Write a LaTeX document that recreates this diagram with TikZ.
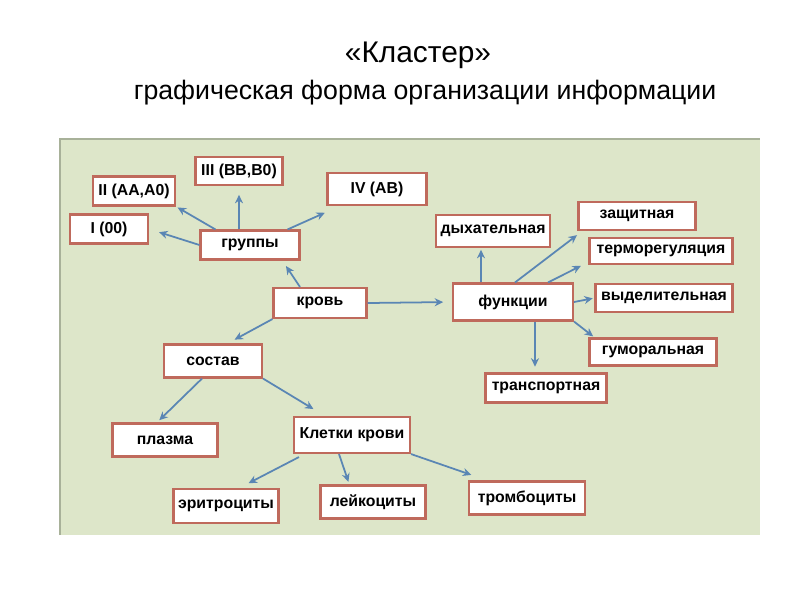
\documentclass[tikz,border=0pt]{standalone}
\usepackage{fontspec}
\setmainfont{Liberation Sans}
\usepackage{xcolor}
\usepackage{tikz}
\usetikzlibrary{arrows.meta,calc}
\definecolor{panel}{HTML}{DDE6C9}
\definecolor{panelline}{HTML}{A8B199}
\definecolor{brick}{HTML}{BF6A5C}
\definecolor{steel}{HTML}{5A86B4}

\begin{document}
\begin{tikzpicture}[
  x=0.02cm,y=-0.02cm,
  box/.style={draw=brick,line width=1.2pt,fill=white,inner sep=2pt,
              font=\fontsize{9}{10}\selectfont\bfseries},
  ar/.style={-{Stealth[length=1.7mm,width=1.6mm]},line width=1pt,draw=steel,shorten >=1pt},
]
\useasboundingbox (0,0) rectangle (800,600);

% ---- Title
\node (ttl) at (418,55) {\fontsize{17}{20}\selectfont «Кластер»};
\node (sub) at (425,93) {\fontsize{15.2}{18}\selectfont графическая форма организации информации};

% ---- Panel
\fill[panel] (60,139) rectangle (760,535);
\draw[panelline,line width=1pt] (60,535) -- (60,139) -- (760,139);

% ---- Groups
\node[box,minimum width=1.56cm,minimum height=0.58cm] (g1) at (109,229) {I (00)};
\node[box,minimum width=1.64cm,minimum height=0.58cm] (g2) at (134,191) {II (АА,А0)};
\node[box,minimum width=1.74cm,minimum height=0.56cm] (g3) at (239,171) {III (ВВ,В0)};
\node[box,minimum width=1.98cm,minimum height=0.64cm] (g4) at (377,189) {IV (АВ)};
\node[box,minimum width=1.98cm,minimum height=0.58cm] (grp) at (250,245) {группы};

% ---- Centre
\node[box,minimum width=1.86cm,minimum height=0.60cm] (blood) at (320,303) {кровь};

% ---- Functions
\node[box,minimum width=2.40cm,minimum height=0.74cm] (fn) at (513,302) {функции};
\node[box,minimum width=2.28cm,minimum height=0.64cm] (f1) at (493,231) {дыхательная};
\node[box,minimum width=2.34cm,minimum height=0.56cm] (f2) at (637,216) {защитная};
\node[box,minimum width=2.86cm,minimum height=0.52cm] (f3) at (661,251) {терморегуляция};
\node[box,minimum width=2.74cm,minimum height=0.56cm] (f4) at (664,298) {выделительная};
\node[box,minimum width=2.54cm,minimum height=0.54cm] (f5) at (653,352) {гуморальная};
\node[box,minimum width=2.42cm,minimum height=0.58cm] (f6) at (546,388) {транспортная};

% ---- Composition
\node[box,minimum width=1.96cm,minimum height=0.66cm] (sost) at (213,361) {состав};
\node[box,minimum width=2.10cm,minimum height=0.66cm] (plasma) at (165,440) {плазма};
\node[box,minimum width=2.32cm,minimum height=0.72cm] (cells) at (352,435) {Клетки крови};
\node[box,minimum width=2.10cm,minimum height=0.68cm] (c1) at (226,506) {эритроциты};
\node[box,minimum width=2.10cm,minimum height=0.66cm] (c2) at (373,502) {лейкоциты};
\node[box,minimum width=2.32cm,minimum height=0.66cm] (c3) at (527,498) {тромбоциты};

% ---- Arrows
\draw[ar,shorten >=6pt] (grp.west) -- (g1.east);
\draw[ar] ($(grp.north west)+(16,0)$) -- (g2.south east);
\draw[ar,shorten >=5pt] (grp.north -| g3.south) -- (g3.south);
\draw[ar] ($(grp.north east)+(-13,0)$) -- ($(g4.south west)+(0,6)$);
\draw[ar] ($(blood.north)+(-20,0)$) -- ($(grp.south)+(35,4)$);
\draw[ar,shorten >=5pt] (blood.east) -- (fn.west);
\draw[ar] (blood.south west) -- ($(sost.north)+(20,-3)$);
\draw[ar] ($(sost.south)+(-11,0)$) -- ($(plasma.north)+(-7,-1)$);
\draw[ar] (sost.south east) -- ($(cells.north west)+(22,-6)$);
\draw[ar] ($(cells.south west)+(6,3)$) -- ($(c1.north)+(21,-4)$);
\draw[ar] ($(cells.south)+(-13,0)$) -- ($(c2.north)+(-24,-1)$);
\draw[ar] (cells.south east) -- ($(c3.north west)+(5,-5)$);
\draw[ar] ($(fn.north)+(-32,0)$) -- ($(f1.south)+(-12,0)$);
\draw[ar] ($(fn.north)+(2,0)$) -- ($(f2.south west)+(1,3)$);
\draw[ar] ($(fn.north)+(35,0)$) -- ($(f3.south west)+(-6,0)$);
\draw[ar] (fn.east) -- (f4.west);
\draw[ar] (fn.south east) -- ($(f5.north west)+(6,0)$);
\draw[ar] ($(fn.south)+(22,0)$) -- ($(f6.north)+(-11,-4)$);

\end{tikzpicture}
\end{document}
